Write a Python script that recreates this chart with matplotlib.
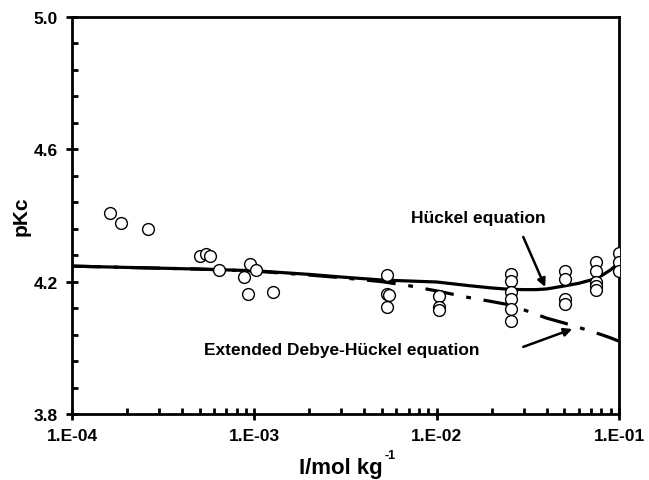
import math
import matplotlib
matplotlib.use("Agg")
import matplotlib.pyplot as plt
from matplotlib.ticker import FixedLocator, FuncFormatter, NullFormatter

plt.rcParams['font.family'] = ['Liberation Sans', 'DejaVu Sans']
plt.rcParams['font.weight'] = 'bold'

# measured pKc
ionic = [1.62e-4, 1.86e-4, 2.61e-4,
         5.0e-4, 5.4e-4, 5.7e-4, 6.4e-4,
         8.8e-4, 9.2e-4, 9.5e-4, 1.02e-3, 1.27e-3,
         5.35e-3, 5.35e-3, 5.5e-3, 5.35e-3,
         1.03e-2, 1.03e-2, 1.03e-2,
         2.55e-2, 2.55e-2, 2.55e-2, 2.55e-2, 2.55e-2, 2.55e-2,
         5.05e-2, 5.05e-2, 5.05e-2, 5.05e-2,
         7.5e-2, 7.5e-2, 7.5e-2, 7.5e-2, 7.5e-2,
         0.1, 0.1, 0.1]
pkc = [4.408, 4.378, 4.36,
       4.278, 4.284, 4.278, 4.236,
       4.214, 4.163, 4.254, 4.236, 4.169,
       4.221, 4.163, 4.16, 4.124,
       4.157, 4.124, 4.115,
       4.224, 4.202, 4.169, 4.148, 4.118, 4.082,
       4.233, 4.208, 4.148, 4.133,
       4.26, 4.233, 4.2, 4.187, 4.175,
       4.287, 4.26, 4.233]

# Hückel equation curve
huckel_i = [1e-4, 2e-4, 5e-4, 1e-3, 2e-3, 3e-3, 5e-3, 1e-2, 1.5e-2, 2e-2,
            2.5e-2, 3e-2, 3.5e-2, 4e-2, 5e-2, 6e-2, 7e-2, 8e-2, 9e-2, 0.1]
huckel_pk = [4.247, 4.243, 4.238, 4.233, 4.222, 4.214, 4.205, 4.199, 4.188, 4.181,
             4.177, 4.176, 4.176, 4.178, 4.187, 4.195, 4.205, 4.218, 4.236, 4.258]

# extended Debye-Hückel curve
edh_i = [1e-4, 2e-4, 5e-4, 1e-3, 2e-3, 3e-3, 5e-3, 7e-3, 1e-2, 1.5e-2, 2e-2,
         2.5e-2, 3e-2, 4e-2, 5e-2, 6e-2, 7e-2, 8e-2, 9e-2, 0.1]
edh_pk = [4.247, 4.243, 4.238, 4.232, 4.22, 4.212, 4.2, 4.188, 4.172, 4.152, 4.14,
          4.13, 4.115, 4.09, 4.075, 4.062, 4.05, 4.04, 4.03, 4.02]

xticks = [1e-4, 1e-3, 1e-2, 1e-1]
yticks = [3.8, 4.2, 4.6, 5.0]

fig = plt.figure(figsize=(6.49, 4.81), dpi=100)
ax = fig.add_axes([0.111, 0.137, 0.843, 0.826])

ax.plot(edh_i, edh_pk, color='black', lw=2.3, linestyle=(0, (9, 4, 1.5, 4)), zorder=2)
ax.plot(huckel_i, huckel_pk, color='black', lw=2.3, zorder=3)
ax.plot(ionic, pkc, 'o', ms=8.5, mfc='white', mec='black', mew=1.0, zorder=4)

ax.set_xscale('log')
ax.set_xlim(1e-4, 1e-1)
ax.set_ylim(3.8, 5.0)

ax.xaxis.set_major_locator(FixedLocator(xticks))
ax.xaxis.set_major_formatter(FuncFormatter(lambda v, p: '1.E-%02d' % round(-math.log10(v))))
ax.xaxis.set_minor_locator(FixedLocator([m * 10.0 ** e for e in (-4, -3, -2) for m in range(2, 10)]))
ax.xaxis.set_minor_formatter(NullFormatter())
ax.yaxis.set_major_locator(FixedLocator(yticks))
ax.yaxis.set_major_formatter(FuncFormatter(lambda v, p: '%.1f' % v))
ax.yaxis.set_minor_locator(FixedLocator([3.8 + 0.08 * k for k in range(16)]))

for s in ax.spines.values():
    s.set_linewidth(2.0)
ax.tick_params(which='major', direction='inout', length=8, width=2, labelsize=12.5, pad=6)
ax.tick_params(which='minor', direction='in', length=4, width=2)

# axis titles
fig.text(0.525, 0.027, 'I/mol kg', fontsize=16, fontweight='bold', ha='center', va='center')
fig.text(0.593, 0.052, '-1', fontsize=9, fontweight='bold', ha='left', va='center')
ax.set_ylabel('pKc', fontsize=15, fontweight='bold')
ax.yaxis.set_label_coords(-0.075, 0.5)

# Hückel label and arrow
ax.text(1.69e-2, 4.395, 'Hückel equation', fontsize=12.5, fontweight='bold',
        ha='center', va='center')
ax.annotate('', xy=(3.93e-2, 4.184), xytext=(2.98e-2, 4.335),
            arrowprops=dict(arrowstyle='-|>', color='black', lw=1.8,
                            shrinkA=0, shrinkB=0, mutation_scale=12))

# extended Debye-Hückel label and arrow
ax.text(3.0e-3, 3.994, 'Extended Debye-Hückel equation', fontsize=12.5,
        fontweight='bold', ha='center', va='center')
ax.annotate('', xy=(5.53e-2, 4.057), xytext=(2.98e-2, 4.003),
            arrowprops=dict(arrowstyle='-|>', color='black', lw=1.8,
                            shrinkA=0, shrinkB=0, mutation_scale=12))

fig.savefig('out.png', dpi=100)
